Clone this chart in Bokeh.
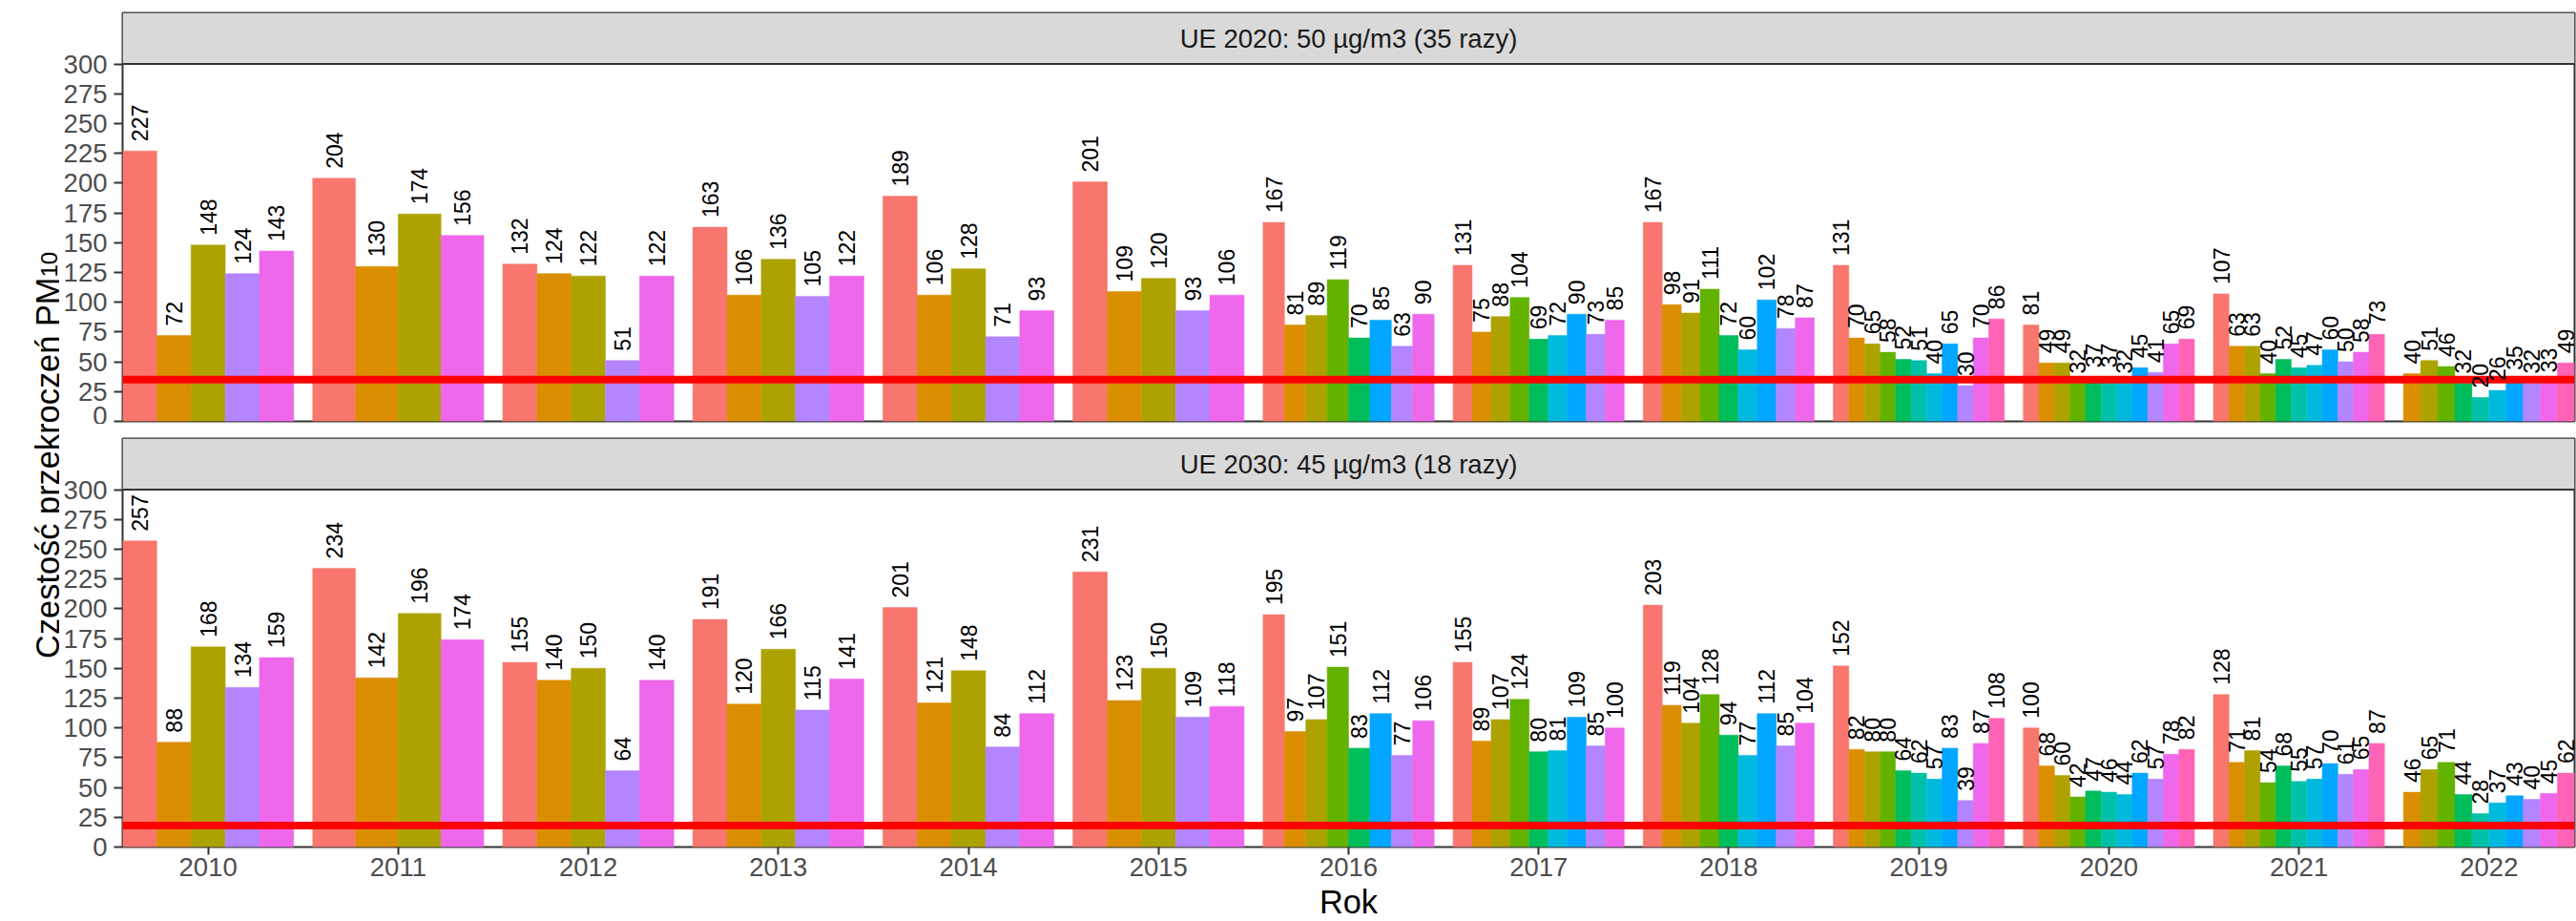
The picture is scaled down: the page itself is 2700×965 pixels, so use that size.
import math

from bokeh.core.properties import value
from bokeh.embed import file_html
from bokeh.layouts import column, row
from bokeh.models import ColumnDataSource, FixedTicker, LabelSet, Range1d, Span
from bokeh.plotting import figure
from bokeh.resources import INLINE

# ---------------------------------------------------------------- data
YEARS = [2010, 2011, 2012, 2013, 2014, 2015, 2016, 2017, 2018, 2019, 2020, 2021, 2022]

# one colour per monitoring station (ggplot hue palette, 11 stations)
STATION_COLORS = ["#F8766D", "#DB8E00", "#AEA200", "#64B200", "#00BD5C", "#00C1A7",
                  "#00BADE", "#00A6FF", "#B385FF", "#EF67EB", "#FF63B6"]

# stations reporting in each year (indices into STATION_COLORS)
STATIONS = [
    [0, 1, 2, 8, 9],                      # 2010
    [0, 1, 2, 9],                         # 2011
    [0, 1, 2, 8, 9],                      # 2012
    [0, 1, 2, 8, 9],                      # 2013
    [0, 1, 2, 8, 9],                      # 2014
    [0, 1, 2, 8, 9],                      # 2015
    [0, 1, 2, 3, 4, 7, 8, 9],             # 2016
    [0, 1, 2, 3, 4, 6, 7, 8, 9],          # 2017
    [0, 1, 2, 3, 4, 6, 7, 8, 9],          # 2018
    [0, 1, 2, 3, 4, 5, 6, 7, 8, 9, 10],   # 2019
    [0, 1, 2, 3, 4, 5, 6, 7, 8, 9, 10],   # 2020
    [0, 1, 2, 3, 4, 5, 6, 7, 8, 9, 10],   # 2021
    [1, 2, 3, 4, 5, 6, 7, 8, 9, 10],      # 2022
]

# days with daily PM10 above 50 ug/m3
DAYS_OVER_50 = [
    [227, 72, 148, 124, 143],
    [204, 130, 174, 156],
    [132, 124, 122, 51, 122],
    [163, 106, 136, 105, 122],
    [189, 106, 128, 71, 93],
    [201, 109, 120, 93, 106],
    [167, 81, 89, 119, 70, 85, 63, 90],
    [131, 75, 88, 104, 69, 72, 90, 73, 85],
    [167, 98, 91, 111, 72, 60, 102, 78, 87],
    [131, 70, 65, 58, 52, 51, 40, 65, 30, 70, 86],
    [81, 49, 49, 32, 37, 37, 32, 45, 41, 65, 69],
    [107, 63, 63, 40, 52, 45, 47, 60, 50, 58, 73],
    [40, 51, 46, 32, 20, 26, 35, 32, 33, 49],
]

# days with daily PM10 above 45 ug/m3
DAYS_OVER_45 = [
    [257, 88, 168, 134, 159],
    [234, 142, 196, 174],
    [155, 140, 150, 64, 140],
    [191, 120, 166, 115, 141],
    [201, 121, 148, 84, 112],
    [231, 123, 150, 109, 118],
    [195, 97, 107, 151, 83, 112, 77, 106],
    [155, 89, 107, 124, 80, 81, 109, 85, 100],
    [203, 119, 104, 128, 94, 77, 112, 85, 104],
    [152, 82, 80, 80, 64, 62, 57, 83, 39, 87, 108],
    [100, 68, 60, 42, 47, 46, 44, 62, 57, 78, 82],
    [128, 71, 81, 54, 68, 55, 57, 70, 61, 65, 87],
    [46, 65, 71, 44, 28, 37, 43, 40, 45, 62],
]

ALLOWED_2020 = 35
ALLOWED_2030 = 18
STRIP_2020 = "UE 2020: 50 µg/m3 (35 razy)"
STRIP_2030 = "UE 2030: 45 µg/m3 (18 razy)"
Y_TICKS = [0, 25, 50, 75, 100, 125, 150, 175, 200, 225, 250, 275, 300]
Y_TITLE = "Częstość przekroczeń PM"
Y_TITLE_SUB = "10"
X_TITLE = "Rok"

# ---------------------------------------------------------------- style
FONT = "Liberation Sans"
DODGE = 0.9
Y_MAX = 300
FRAME_W = 2570
STRIP_PX = 53.5
PANEL_PX = 374.5
FRAME_H = 428
Y_TOP = Y_MAX * FRAME_H / PANEL_PX
TITLE_W = 62
PAGE_H = 965
DARK = "#333333"

x_range = Range1d(YEARS[0] - DODGE / 2, YEARS[-1] + DODGE / 2)


def dodged(values):
    """Place each station's bar side by side inside its year slot."""
    xs, ws, tops, colors, labels = [], [], [], [], []
    for year, stations, vals in zip(YEARS, STATIONS, values):
        w = DODGE / len(stations)
        for k, (st, v) in enumerate(zip(stations, vals)):
            xs.append(year - DODGE / 2 + (k + 0.5) * w)
            ws.append(w)
            tops.append(v)
            colors.append(STATION_COLORS[st])
            labels.append(str(v))
    return ColumnDataSource(dict(x=xs, w=ws, top=tops, color=colors, label=labels))


def panel(values, allowed, strip_text, with_x_axis, border_top, border_bottom):
    p = figure(frame_width=FRAME_W, frame_height=FRAME_H,
               x_range=x_range, y_range=Range1d(0, Y_TOP),
               x_axis_location="below" if with_x_axis else None,
               y_axis_location="left",
               min_border_left=128 - TITLE_W, min_border_right=2,
               min_border_top=border_top, min_border_bottom=border_bottom,
               output_backend="svg", toolbar_location=None,
               background_fill_color="white", border_fill_color="white",
               outline_line_color=DARK, outline_line_width=2)
    p.grid.visible = False

    src = dodged(values)
    p.vbar(x="x", width="w", top="top", bottom=0, source=src,
           fill_color="color", line_color="color", line_width=0.5)

    # facet strip
    p.quad(left=[x_range.start], right=[x_range.end], bottom=[Y_MAX], top=[Y_TOP],
           fill_color="#D9D9D9", line_color=None)
    p.add_layout(Span(location=Y_MAX, dimension="width", line_color=DARK, line_width=2))
    p.text(x=[(x_range.start + x_range.end) / 2], y=[(Y_MAX + Y_TOP) / 2], text=[strip_text],
           text_align="center", text_baseline="middle", text_font=value(FONT),
           text_font_size="27.5px", text_color="#1A1A1A")

    # allowed number of exceedances
    p.add_layout(Span(location=allowed, dimension="width", line_color="#FF0000", line_width=8))

    p.add_layout(LabelSet(source=src, x="x", y="top", text="label", angle=math.pi / 2,
                          y_offset=10, text_align="left", text_baseline="middle",
                          text_font=value(FONT), text_font_size="23px", text_color="black"))

    yax = p.yaxis[0]
    yax.ticker = FixedTicker(ticks=Y_TICKS)
    yax.axis_line_color = None
    yax.major_tick_line_color = DARK
    yax.major_tick_line_width = 2
    yax.major_tick_out = 9
    yax.major_tick_in = 0
    yax.minor_tick_line_color = None
    yax.major_label_standoff = 7
    yax.major_label_text_font = FONT
    yax.major_label_text_font_size = "27.5px"
    yax.major_label_text_color = "#4D4D4D"

    if with_x_axis:
        xax = p.xaxis[0]
        xax.ticker = FixedTicker(ticks=YEARS)
        xax.major_label_overrides = {y: str(y) for y in YEARS}
        xax.axis_line_color = None
        xax.major_tick_line_color = DARK
        xax.major_tick_line_width = 2
        xax.major_tick_out = 8
        xax.major_tick_in = 0
        xax.minor_tick_line_color = None
        xax.major_label_standoff = 3
        xax.major_label_text_font = FONT
        xax.major_label_text_font_size = "27.5px"
        xax.major_label_text_color = "#4D4D4D"
        xax.axis_label = X_TITLE
        xax.axis_label_standoff = 5
        xax.axis_label_text_font = FONT
        xax.axis_label_text_font_size = "34.4px"
        xax.axis_label_text_font_style = "normal"
        xax.axis_label_text_color = "black"
    return p


top = panel(DAYS_OVER_50, ALLOWED_2020, STRIP_2020, False, 13, 3)
bottom = panel(DAYS_OVER_45, ALLOWED_2030, STRIP_2030, True, 15, 0)

# shared y-axis title with subscript; drawn in pixel units of its own strip
ytitle = figure(width=TITLE_W, height=PAGE_H, x_range=Range1d(0, TITLE_W), y_range=Range1d(0, PAGE_H),
                x_axis_location=None, y_axis_location=None, min_border=0,
                output_backend="svg", toolbar_location=None,
                outline_line_color=None, background_fill_color="white", border_fill_color="white")
ytitle.grid.visible = False
anchor_y = PAGE_H - 290
ytitle.text(x=[49], y=[anchor_y], text=[Y_TITLE], angle=math.pi / 2, text_align="right",
            text_baseline="alphabetic", text_font=value(FONT), text_font_size="34.4px",
            text_color="black")
ytitle.text(x=[51], y=[anchor_y], text=[Y_TITLE_SUB], angle=math.pi / 2, text_align="left",
            text_baseline="alphabetic", text_font=value(FONT), text_font_size="24px",
            text_color="black")

layout = row(ytitle, column(top, bottom))
open("out.html", "w").write(file_html(layout, INLINE))
